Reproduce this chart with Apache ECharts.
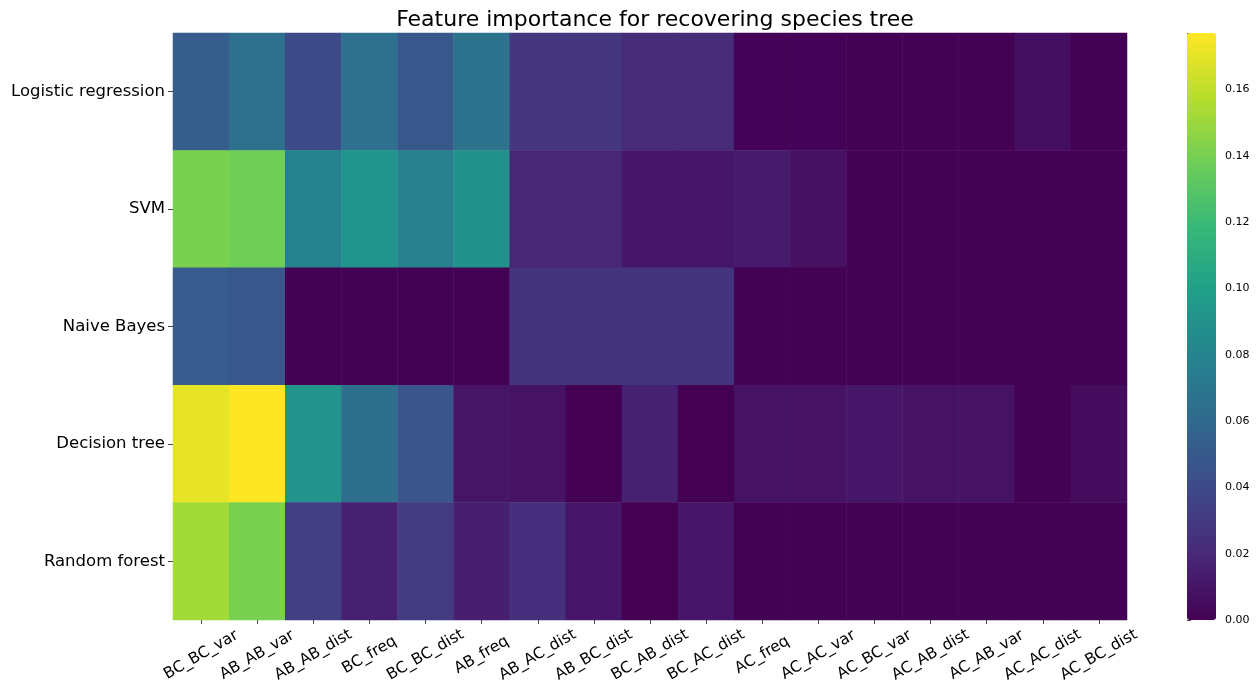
<!DOCTYPE html>
<html>
<head>
<meta charset="utf-8">
<script src="https://cdn.jsdelivr.net/npm/echarts@6/dist/echarts.min.js"></script>
<style>
  html, body { margin: 0; padding: 0; background: #fff; }
  #chart { width: 1257px; height: 690px; }
</style>
</head>
<body>
<div id="chart"></div>
<script>
// Feature names (columns) and classifiers (rows)
const features = ['BC_BC_var', 'AB_AB_var', 'AB_AB_dist', 'BC_freq', 'BC_BC_dist', 'AB_freq',
  'AB_AC_dist', 'AB_BC_dist', 'BC_AB_dist', 'BC_AC_dist', 'AC_freq', 'AC_AC_var',
  'AC_BC_var', 'AC_AB_dist', 'AC_AB_var', 'AC_AC_dist', 'AC_BC_dist'];
const models = ['Logistic regression', 'SVM', 'Naive Bayes', 'Decision tree', 'Random forest'];

// Importance of each feature, one array per classifier
const logisticRegression = [0.052, 0.065, 0.041, 0.066, 0.048, 0.067, 0.028, 0.028, 0.022, 0.022, 0.001, 0.001, 0.0005, 0.0005, 0.0005, 0.007, 0.0005];
const svm                = [0.141, 0.138, 0.078, 0.092, 0.077, 0.090, 0.019, 0.019, 0.011, 0.011, 0.013, 0.008, 0.0005, 0.0005, 0.0005, 0.0005, 0.0005];
const naiveBayes         = [0.051, 0.048, 0.0005, 0.0005, 0.0005, 0.0005, 0.027, 0.027, 0.027, 0.027, 0.0005, 0.0005, 0.0005, 0.0005, 0.0005, 0.0005, 0.0005];
const decisionTree       = [0.171, 0.177, 0.091, 0.064, 0.047, 0.010, 0.009, 0.0, 0.016, 0.0, 0.009, 0.009, 0.011, 0.009, 0.009, 0.0005, 0.005];
const randomForest       = [0.152, 0.141, 0.033, 0.016, 0.031, 0.015, 0.024, 0.011, 0.0, 0.011, 0.0005, 0.0005, 0.0005, 0.0005, 0.0005, 0.0005, 0.0005];

// Colour bar ticks
const colorbarTicks = [0.00, 0.02, 0.04, 0.06, 0.08, 0.10, 0.12, 0.14, 0.16];
const vMin = 0;
const vMax = 0.177;

const rows = [logisticRegression, svm, naiveBayes, decisionTree, randomForest];
const cells = [];
rows.forEach((vals, r) => vals.forEach((v, c) => cells.push([c, r, v])));

const viridis = ['#440154', '#482878', '#3e4989', '#31688e', '#26828e',
  '#1f9e89', '#35b779', '#6ece58', '#b5de2b', '#fde725'];

const FONT = 'DejaVu Sans';
const chart = echarts.init(document.getElementById('chart'), null, { renderer: 'canvas' });

chart.setOption({
  animation: false,
  backgroundColor: '#fff',
  textStyle: { fontFamily: FONT },
  title: {
    text: 'Feature importance for recovering species tree',
    left: 650, top: 4, textAlign: 'center',
    textStyle: { fontFamily: FONT, fontSize: 22, fontWeight: 'normal', color: '#000' }
  },
  grid: [
    { left: 173, top: 33, width: 954, height: 587 },
    { left: 1187, top: 33, width: 29, height: 587 }
  ],
  xAxis: [
    {
      type: 'category', data: features, gridIndex: 0,
      axisLine: { show: false },
      axisTick: { show: true, alignWithLabel: true, length: 4, lineStyle: { color: '#444' } },
      axisLabel: {
        rotate: 30, align: 'center', verticalAlign: 'middle', margin: 35,
        fontFamily: FONT, fontSize: 15.5, color: '#000', interval: 0
      },
      splitLine: { show: false }
    },
    { type: 'value', gridIndex: 1, show: false, min: 0, max: 1 }
  ],
  yAxis: [
    {
      type: 'category', data: models, gridIndex: 0, inverse: true,
      axisLine: { show: false },
      axisTick: { show: true, alignWithLabel: true, length: 5, lineStyle: { color: '#444' } },
      axisLabel: { margin: 8, fontFamily: FONT, fontSize: 16.5, color: '#000' },
      splitLine: { show: false }
    },
    {
      type: 'value', gridIndex: 1, position: 'right', min: vMin, max: vMax, interval: 0.02,
      axisLine: { show: false },
      axisTick: { show: true, length: 4, inside: false, lineStyle: { color: '#444' } },
      axisLabel: {
        margin: 9, fontFamily: FONT, fontSize: 11, color: '#000',
        formatter: v => colorbarTicks.some(t => Math.abs(t - v) < 1e-9) ? v.toFixed(2) : ''
      },
      splitLine: { show: false }
    }
  ],
  visualMap: [
    {
      type: 'continuous', min: vMin, max: vMax, seriesIndex: 0,
      calculable: false, show: true, orient: 'vertical',
      left: 1187, top: 33, itemWidth: 29, itemHeight: 587,
      padding: 0, text: null, showLabel: false, hoverLink: false,
      inRange: { color: viridis }
    }
  ],
  series: [
    {
      type: 'heatmap', xAxisIndex: 0, yAxisIndex: 0, data: cells,
      itemStyle: { borderWidth: 0 },
      emphasis: { disabled: true }
    },
    { type: 'scatter', xAxisIndex: 1, yAxisIndex: 1, data: [], silent: true }
  ]
});
</script>
</body>
</html>
